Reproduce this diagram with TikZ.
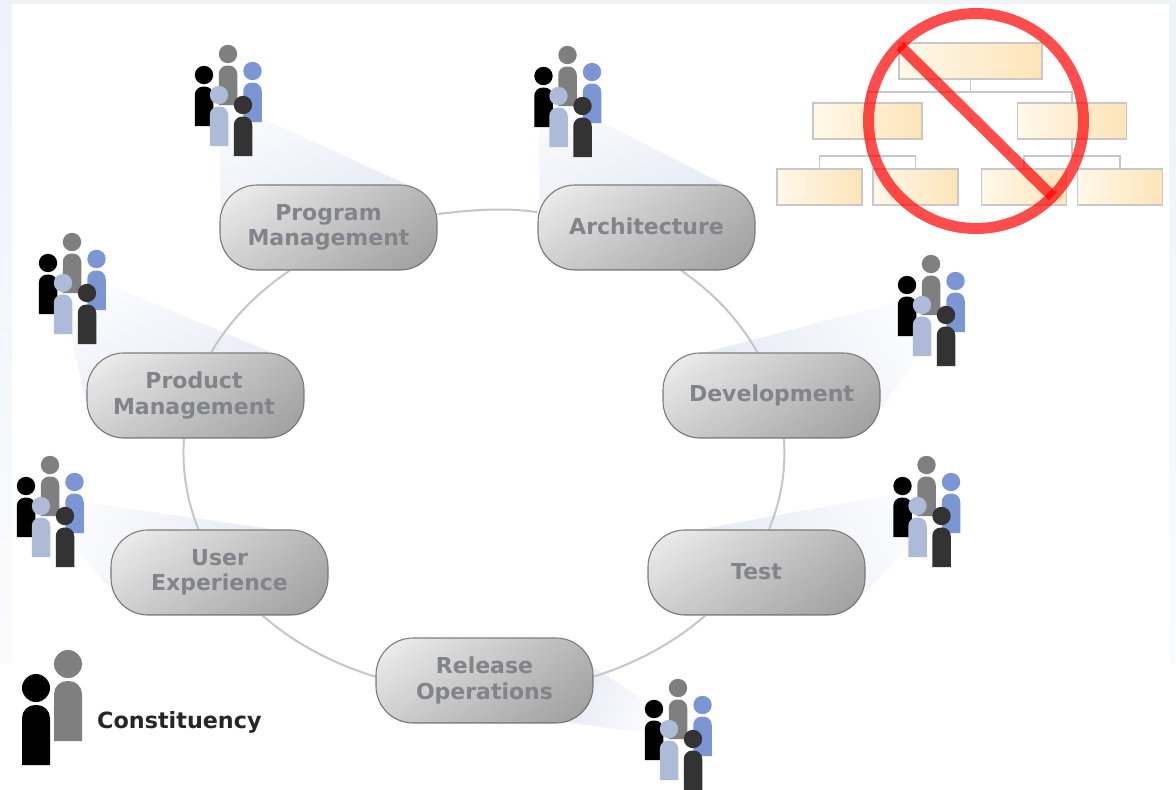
\documentclass[tikz,border=0pt]{standalone}
\usepackage{fontspec}
\setmainfont{DejaVu Sans}
\usetikzlibrary{backgrounds,fadings,calc}
\definecolor{pagebg}{HTML}{EEF3F8}
\definecolor{pagepale}{HTML}{FAFBFD}
\definecolor{ringc}{HTML}{C6C6C6}
\definecolor{nodeedge}{HTML}{7E7E7E}
\definecolor{labelc}{HTML}{83838A}
\definecolor{orgedge}{HTML}{C8C8C8}
\definecolor{orgstart}{HTML}{FFF8EA}
\definecolor{orgend}{HTML}{FDE4B8}
\definecolor{conedark}{HTML}{E6EAF5}
\definecolor{conelight}{HTML}{FAFBFD}
\definecolor{pgray}{HTML}{7F7F7F}
\definecolor{pblue}{HTML}{7B96D2}
\definecolor{plight}{HTML}{AEBBD8}
\definecolor{pdark}{HTML}{333333}
\definecolor{discl}{HTML}{F2F2F2}
\definecolor{discr}{HTML}{B6B6B6}
\tikzfading[name=lowerdark, top color=transparent!100, middle color=transparent!97, bottom color=transparent!86]
\newcommand{\person}[5][9.25]{% half-width, colour, head x, head y, body bottom offset
  \fill[#2] (#3,#4) circle[radius=9.2];
  \fill[#2] ({#3-#1},{#4+#5}) [rounded corners=8.5pt] -- ({#3-#1},{#4+11.5}) -- ({#3+#1},{#4+11.5}) [sharp corners] -- ({#3+#1},{#4+#5}) -- cycle;
}
\newcommand{\ringlink}[4]{% from anchor, to anchor, start and end parameter of the ellipse
  \pgfmathsetmacro{\kk}{4/3*tan((#4-#3)/4)}
  \pgfmathsetmacro{\ax}{-\kk*300.5*sin(#3)}
  \pgfmathsetmacro{\ay}{\kk*241*cos(#3)}
  \pgfmathsetmacro{\bx}{\kk*300.5*sin(#4)}
  \pgfmathsetmacro{\by}{-\kk*241*cos(#4)}
  \draw[ringline] (#1) .. controls +(\ax,\ay) and +(\bx,\by) .. (#2);
}
\tikzset{
  x=1pt,y=-1pt,
  ringline/.style={draw=ringc,line width=2pt},
  disc/.style={
    draw=nodeedge,line width=1.1pt,rounded corners=37pt,
    minimum width=217pt,minimum height=85pt,inner sep=0pt,
    align=center,text=labelc,
    font=\fontsize{22}{25.5}\selectfont\bfseries,
    left color=discl,right color=discr,
    postaction={fill=black,path fading=lowerdark,fit fading=true}},
  orgbox/.style={draw=orgedge,line width=1.6pt,inner sep=0pt,left color=orgstart,right color=orgend},
  orglink/.style={draw=orgedge,line width=1.6pt},
  cone/.style={shading=axis,top color=conelight,bottom color=conedark,shading angle=#1},
  crowd/.pic={
    \person{pgray}{0}{0}{51}
    \person{pblue}{24.5}{17}{51}
    \person{black}{-24}{21}{51}
    \person{plight}{-9}{41}{51}
    \person{pdark}{15}{51}{51}
  },
  nosign/.style={draw=red,opacity=.7,line width=11pt}
}
\begin{document}
\begin{tikzpicture}
\useasboundingbox (0,0) rectangle (1176,790);

% org chart
\node[orgbox,minimum width=143pt,minimum height=36pt] (top) at (970.5,61) {};
\node[orgbox,minimum width=109pt,minimum height=36pt] (ml) at (867.5,121) {};
\node[orgbox,minimum width=109pt,minimum height=36pt] (mr) at (1072,121) {};
\node[orgbox,minimum width=85pt,minimum height=36pt] (b1) at (819.5,187) {};
\node[orgbox,minimum width=85pt,minimum height=36pt] (b2) at (915.5,187) {};
\node[orgbox,minimum width=85pt,minimum height=36pt] (b3) at (1024,187) {};
\node[orgbox,minimum width=85pt,minimum height=36pt] (b4) at (1120,187) {};
\draw[orglink] (top.south) -- ++(0,12) -| (ml.north);
\draw[orglink] (top.south) -- ++(0,12) -| (mr.north);
\draw[orglink] (ml.south) -- ++(0,16) -| (b1.north);
\draw[orglink] (ml.south) -- ++(0,16) -| (b2.north);
\draw[orglink] (mr.south) -- ++(0,16) -| (b3.north);
\draw[orglink] (mr.south) -- ++(0,16) -| (b4.north);

% prohibition sign
\coordinate (signc) at (976,121);
\coordinate (signa) at (900,46);
\coordinate (signb) at (1052.7,196.7);
\draw[nosign] (signc) circle[radius=107.5];
\draw[nosign] (signa) -- (signb);

% discs
\node[disc] (pm) at (328.5,227.5) {Program\\Management};
\node[disc] (arch) at (646.5,227.5) {\raisebox{3pt}{Architecture}};
\node[disc] (prod) at (195.5,395.5) {\hspace*{-3pt}Product\\\hspace*{-3pt}Management};
\node[disc] (dev) at (771.5,395.5) {\raisebox{1pt}{Development}};
\node[disc] (ux) at (219.5,572.5) {User\\Experience};
\node[disc] (test) at (756.5,572.5) {\raisebox{3pt}{Test}};
\node[disc] (rel) at (484.5,680.5) {Release\\Operations};

% crowds
\pic at (228,54) {crowd};
\pic at (567.5,55) {crowd};
\pic at (72,242) {crowd};
\pic at (50,465) {crowd};
\pic at (931,264) {crowd};
\pic at (926.5,465) {crowd};
\pic at (678,688) {crowd};

% legend
\fill[pgray] (68,664) circle[radius=14];
\fill[pgray] (54,741) [rounded corners=13pt] -- (54,681) -- (82,681) [sharp corners] -- (82,741) -- cycle;
\fill[black] (36,688) circle[radius=14];
\fill[black] (22,765) [rounded corners=13pt] -- (22,705) -- (50,705) [sharp corners] -- (50,765) -- cycle;
\node[anchor=west,inner sep=0pt,text=black!85,font=\fontsize{22.3}{25}\selectfont\bfseries] (legend) at (97,722) {Constituency};

\begin{scope}[on background layer]
  \fill[white] (0,0) rectangle (1176,790);
  \fill[pagebg] (0,0) rectangle (1176,4);
  \shade[top color=pagebg,bottom color=pagepale] (0,4) rectangle (12,662);
  \shade[top color=pagebg,bottom color=pagepale] (1169,4) rectangle (1176,662);
  \shade[cone=22] (219,110) -- (255,115) -- (410,186) -- (221,215) -- cycle;
  \shade[cone=22] (538,100) -- (600,121) -- (725,185) -- (540,215) -- cycle;
  \shade[cone=25] (70,332) -- (107,284) -- (273,353) -- (88,410) -- cycle;
  \shade[cone=70] (83,502) -- (278,530) -- (113,592) -- (60,530) -- cycle;
  \shade[cone=-60] (905,300) -- (703,353) -- (882,408) -- (920,352) -- cycle;
  \shade[cone=-70] (905,492) -- (697,530) -- (863,595) -- (915,540) -- cycle;
  \shade[cone=-110] (590,665) -- (650,704) -- (650,734) -- (565,722) -- cycle;
  \ringlink{pm.7.6}{arch.172.4}{-98.9}{-79.55}
  \ringlink{arch.-51.8}{dev.108.8}{-49.2}{-24.4}
  \ringlink{dev.-74.9}{test.74.9}{-3.3}{18.8}
  \ringlink{test.-140.5}{rel.2.4}{42.5}{68.6}
  \ringlink{rel.178.1}{ux.-45}{111}{137.5}
  \ringlink{ux.116.8}{prod.-105.1}{161.8}{183.3}
  \ringlink{prod.70}{pm.-132}{205}{230}
\end{scope}
\end{tikzpicture}
\end{document}
